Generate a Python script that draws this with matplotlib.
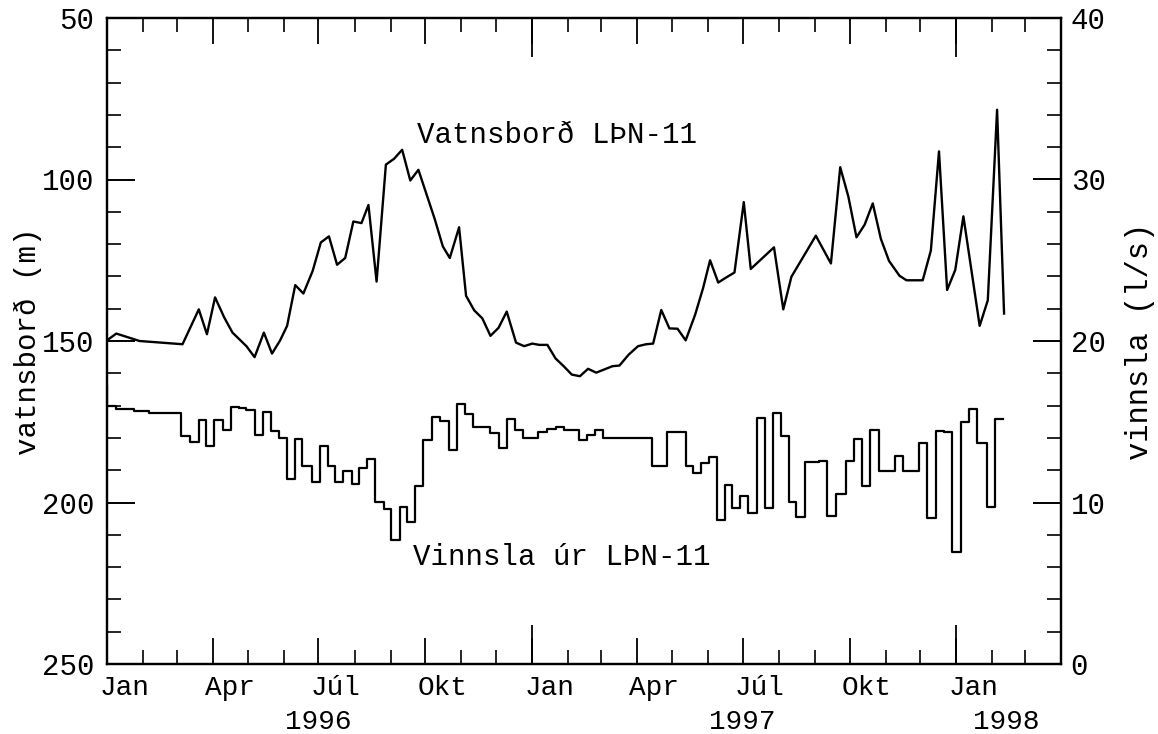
import matplotlib
matplotlib.use("Agg")
import matplotlib.pyplot as plt
import matplotlib.dates as mdates
import matplotlib.transforms as mtransforms
from matplotlib.ticker import MultipleLocator, FixedLocator, NullFormatter, FixedFormatter
import pandas as pd

# ---------------- data ----------------
level_dates = ['1996-01-01','1996-01-09','1996-01-29','1996-03-06','1996-03-20','1996-03-27','1996-04-03','1996-04-11','1996-04-18','1996-04-30',
               '1996-05-07','1996-05-15','1996-05-22','1996-05-29','1996-06-04','1996-06-11','1996-06-18','1996-06-26','1996-07-03','1996-07-10',
               '1996-07-17','1996-07-24','1996-07-31','1996-08-07','1996-08-13','1996-08-20','1996-08-28','1996-09-04','1996-09-11','1996-09-18',
               '1996-09-25','1996-10-09','1996-10-16','1996-10-22','1996-10-30','1996-11-05','1996-11-12','1996-11-19','1996-11-26','1996-12-03',
               '1996-12-10','1996-12-18','1996-12-25','1997-01-01','1997-01-07','1997-01-14','1997-01-21','1997-01-28','1997-02-04','1997-02-11',
               '1997-02-18','1997-02-25','1997-03-04','1997-03-11','1997-03-17','1997-03-25','1997-04-02','1997-04-09','1997-04-15','1997-04-22',
               '1997-04-29','1997-05-06','1997-05-13','1997-05-21','1997-05-28','1997-06-03','1997-06-10','1997-06-17','1997-06-24','1997-07-02',
               '1997-07-08','1997-07-28','1997-08-05','1997-08-12','1997-09-02','1997-09-15','1997-09-23','1997-09-30','1997-10-07','1997-10-14',
               '1997-10-21','1997-10-28','1997-11-04','1997-11-13','1997-11-19','1997-11-26','1997-12-03','1997-12-10','1997-12-17','1997-12-24',
               '1997-12-31','1998-01-07','1998-01-14','1998-01-21','1998-01-28','1998-02-05','1998-02-11']
level_values = [149.8,147.7,150.0,151.0,140.2,147.9,136.5,142.8,147.4,151.6,
                155.0,147.4,153.9,149.8,145.3,132.7,135.3,128.3,119.5,117.6,
                126.4,124.3,113.0,113.5,107.9,131.6,95.4,93.6,90.8,100.3,
                97.0,112.2,120.7,124.3,114.8,136.0,140.5,143.0,148.4,145.9,
                140.9,150.5,151.6,150.8,151.2,151.2,155.4,157.8,160.4,160.9,
                158.6,159.8,158.8,157.8,157.6,154.2,151.6,151.0,150.8,140.4,
                146.1,146.2,149.8,142.0,133.6,125.0,131.9,130.3,128.8,107.0,
                127.7,121.0,140.2,130.1,117.4,126.0,96.2,105.3,117.9,114.0,
                107.4,118.4,125.2,129.8,131.2,131.2,131.2,122.0,91.3,134.2,
                128.0,111.4,128.3,145.3,137.4,78.4,141.5]

pump_dates = ['1996-01-01','1996-01-01','1996-01-09','1996-01-24','1996-02-06','1996-03-05','1996-03-12','1996-03-20','1996-03-26','1996-04-02',
              '1996-04-10','1996-04-17','1996-04-24','1996-04-30','1996-05-07','1996-05-14','1996-05-21','1996-05-28','1996-06-04','1996-06-11',
              '1996-06-17','1996-06-25','1996-07-02','1996-07-09','1996-07-15','1996-07-22','1996-07-30','1996-08-05','1996-08-12','1996-08-19',
              '1996-08-26','1996-09-01','1996-09-09','1996-09-15','1996-09-22','1996-09-29','1996-10-07','1996-10-14','1996-10-21','1996-10-28',
              '1996-11-04','1996-11-11','1996-11-26','1996-12-03','1996-12-10','1996-12-17','1996-12-24','1997-01-06','1997-01-14','1997-01-21',
              '1997-01-28','1997-02-10','1997-02-17','1997-02-24','1997-03-03','1997-04-14','1997-04-27','1997-05-13','1997-05-19','1997-05-26',
              '1997-06-02','1997-06-09','1997-06-16','1997-06-22','1997-06-29','1997-07-06','1997-07-13','1997-07-20','1997-07-27','1997-08-03',
              '1997-08-10','1997-08-16','1997-08-24','1997-09-05','1997-09-12','1997-09-19','1997-09-28','1997-10-05','1997-10-12','1997-10-19',
              '1997-10-26','1997-11-09','1997-11-16','1997-11-30','1997-12-07','1997-12-14','1997-12-21','1997-12-28','1998-01-05','1998-01-12',
              '1998-01-19','1998-01-27','1998-02-03','1998-02-10']
pump_values = [17.2,15.96,15.82,15.65,15.55,14.1,13.75,15.1,13.48,15.1,
               14.5,15.9,15.85,15.7,14.16,15.6,14.4,14.0,11.47,13.95,
               12.24,11.3,13.52,12.24,11.3,11.93,11.14,12.14,12.71,10.06,
               9.6,7.68,9.75,8.82,11.0,13.89,15.28,15.03,13.27,16.1,
               15.45,14.66,14.3,13.37,15.14,14.5,14.0,14.37,14.58,14.66,
               14.5,13.85,14.2,14.5,14.0,12.28,14.37,12.24,11.82,12.44,
               12.8,8.92,11.1,9.65,10.43,9.34,15.24,9.65,15.55,14.1,
               10.02,9.13,12.5,12.58,9.19,10.52,12.55,13.93,11.04,14.5,
               11.93,12.9,11.97,13.68,9.03,14.45,14.35,6.96,14.99,15.8,
               13.68,9.75,15.14,15.14]

month_labels = ['Jan', 'Apr', 'Júl', 'Okt', 'Jan', 'Apr', 'Júl', 'Okt', 'Jan']
month_label_dates = ['1996-01-16','1996-04-16','1996-07-16','1996-10-16','1997-01-16',
                     '1997-04-16','1997-07-16','1997-10-16','1998-01-16']
year_labels = ['1996', '1997', '1998']
year_label_dates = ['1996-07-01', '1997-07-01', '1998-02-13']

x_start, x_end = '1996-01-01', '1998-04-01'

# ---------------- figure ----------------
FONT = ['Liberation Mono', 'DejaVu Sans Mono']
plt.rcParams['font.family'] = FONT

fig = plt.figure(figsize=(11.58, 7.34), dpi=100)
ax = fig.add_axes([107/1158, 1 - 664/734, (1061-107)/1158, (664-18)/734])

ld = pd.to_datetime(level_dates)
pdt = pd.to_datetime(pump_dates)

ax.plot(ld, level_values, color='black', lw=1.7)
ax.set_xlim(pd.Timestamp(x_start), pd.Timestamp(x_end))
ax.set_ylim(250, 50)

ax2 = ax.twinx()
ax2.plot(pdt, pump_values, color='black', lw=1.6, drawstyle='steps-post')
ax2.set_ylim(0, 40)

# extra axis: January ticks (longer) and month labels
axj = ax.twiny()
axj.set_xlim(ax.get_xlim())
axj.xaxis.set_ticks_position('both')
axj.xaxis.set_major_locator(mdates.YearLocator())
axj.xaxis.set_major_formatter(NullFormatter())
axj.tick_params(axis='x', which='major', direction='in', length=28, width=1.3,
                top=True, bottom=True, labeltop=False, labelbottom=False)
lab_pos = mdates.date2num(pd.to_datetime(month_label_dates))
axj.xaxis.set_minor_locator(FixedLocator(lab_pos))
axj.xaxis.set_minor_formatter(FixedFormatter(month_labels))
axj.tick_params(axis='x', which='minor', length=0, labelsize=20, pad=8,
                top=False, bottom=True, labeltop=False, labelbottom=True)
for s in axj.spines.values():
    s.set_visible(False)

for a in (ax, ax2):
    for s in a.spines.values():
        s.set_linewidth(1.6)

# left axis ticks
ax.yaxis.set_major_locator(MultipleLocator(50))
ax.yaxis.set_minor_locator(MultipleLocator(10))
ax.tick_params(axis='y', which='major', direction='in', length=20, width=1.4,
               labelsize=21, pad=9, left=True, right=False, labelleft=True)
ax.tick_params(axis='y', which='minor', direction='in', length=10, width=1.2,
               left=True, right=False)
ax.set_ylabel('vatnsborð (m)', fontsize=21)
ax.yaxis.set_label_coords(-0.068, 0.5)

# right axis ticks
ax2.yaxis.set_major_locator(MultipleLocator(10))
ax2.yaxis.set_minor_locator(MultipleLocator(2))
ax2.tick_params(axis='y', which='major', direction='in', length=20, width=1.4,
                labelsize=21, pad=7)
ax2.tick_params(axis='y', which='minor', direction='in', length=10, width=1.2)
ax2.set_ylabel('vinnsla (l/s)', fontsize=22, labelpad=14)

# x ticks: quarters (major) and months (minor), top and bottom
ax.xaxis.set_major_locator(mdates.MonthLocator(bymonth=[1, 4, 7, 10]))
ax.xaxis.set_minor_locator(mdates.MonthLocator())
ax.xaxis.set_major_formatter(NullFormatter())
ax.xaxis.set_minor_formatter(NullFormatter())
ax.tick_params(axis='x', which='major', direction='in', length=19, width=1.3,
               top=True, bottom=True, labelbottom=False, labeltop=False)
ax.tick_params(axis='x', which='minor', direction='in', length=10, width=1.2,
               top=True, bottom=True, labelbottom=False, labeltop=False)

# year labels
trans = mtransforms.blended_transform_factory(ax.transData, ax.transAxes)
for d, t in zip(year_label_dates, year_labels):
    ax.text(pd.Timestamp(d), -0.09, t, transform=trans, ha='center', va='center',
            fontsize=20)

# series labels
ax.text(pd.Timestamp('1996-09-24'), 86.3, 'Vatnsborð LÞN-11', ha='left', va='center',
        fontsize=21)
ax.text(pd.Timestamp('1996-09-20'), 216.8, 'Vinnsla úr LÞN-11', ha='left', va='center',
        fontsize=21)

fig.savefig('out.png', dpi=100)
